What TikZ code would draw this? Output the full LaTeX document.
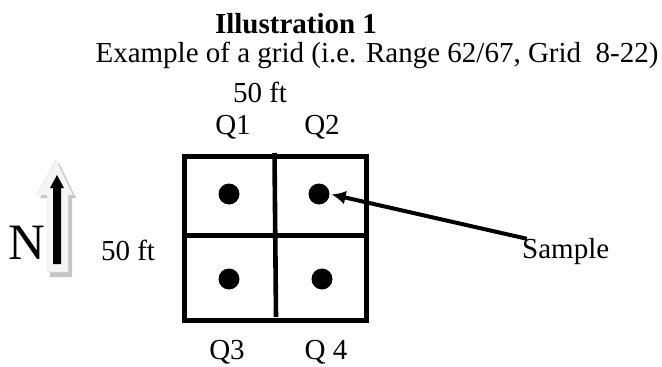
\documentclass[tikz,border=0pt]{standalone}
\usepackage{fontspec}
\setmainfont{Liberation Serif}
\usepackage{tikz}
\usetikzlibrary{arrows,arrows.meta}
\usetikzlibrary{positioning}

\begin{document}
\begin{tikzpicture}[>={Latex[length=14pt,width=14pt]}, x=1pt, y=-1pt]
\tikzstyle{txt}=[font=\fontsize{29}{34}\selectfont, inner sep=0pt, anchor=base]
\tikzstyle{gridline}=[line width=4.6pt]
\tikzstyle{dot}=[circle, fill=black, minimum size=21pt, inner sep=0pt]
\useasboundingbox (0,0) rectangle (662,367);
% title
\node[txt, font=\fontsize{29}{34}\selectfont\bfseries] (title) at (296,33) {Illustration 1};
\node[txt] (sub) at (377,62) {Example of a grid (i.e. Range 62/67, Grid\ \ 8-22)};
% sides and quarters
\node[txt] (top) at (260,102) {50 ft};
\node[txt] (left) at (128,260) {50 ft};
\node[txt] (q1) at (233,134) {Q1};
\node[txt] (q2) at (322,134) {Q2};
\node[txt] (q3) at (227,359) {Q3};
\node[txt] (q4) at (326,359) {Q 4};
% grid square
\draw[gridline] (184.5,156.5) rectangle (366.5,320.5);
\draw[gridline] (184.5,235.5) -- (366.5,235.5);
\draw[gridline] (274.5,153) -- (276,317);
% samples
\node[dot] (s1) at (229,194) {};
\node[dot] (s2) at (319,194) {};
\node[dot] (s3) at (229,279) {};
\node[dot] (s4) at (322,279) {};
\node[txt, anchor=base west] (sample) at (522,258) {Sample};
\draw[->, line width=4pt, shorten <=-5pt, shorten >=2pt] (sample.north west) -- (s2.east);
% north arrow
\fill[gray!45] (59,163) -- (76,198) -- (72,198) -- (72,277) -- (50,277) -- (50,198) -- (40,198) -- cycle;
\draw[gray!25, fill=gray!8] (56,160) -- (73,195) -- (68,195) -- (68,272) -- (47,272) -- (47,195) -- (37,195) -- cycle;
\fill[black] (57,175) -- (64,188) -- (61,188) -- (61,264) -- (53,264) -- (53,188) -- (50,188) -- cycle;
\node[font=\fontsize{51}{56}\selectfont, inner sep=0pt, anchor=base] (north) at (27,259) {N};
\end{tikzpicture}
\end{document}
